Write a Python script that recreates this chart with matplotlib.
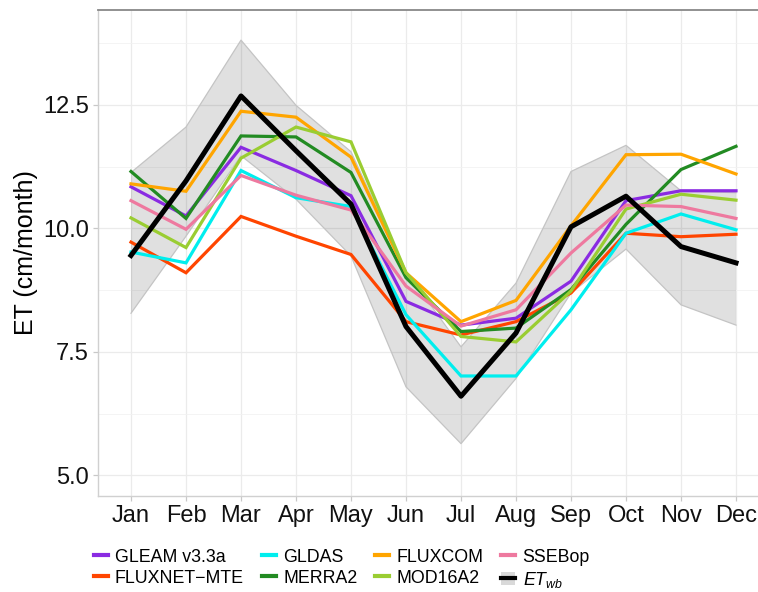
import matplotlib
matplotlib.use("Agg")
import matplotlib.pyplot as plt
from matplotlib.lines import Line2D
from matplotlib.patches import Patch
from matplotlib.ticker import MultipleLocator

plt.rcParams['font.family'] = ['Liberation Sans', 'DejaVu Sans']
plt.rcParams['mathtext.fontset'] = 'custom'
plt.rcParams['mathtext.it'] = 'Liberation Sans:italic'
plt.rcParams['mathtext.rm'] = 'Liberation Sans'

months = ['Jan', 'Feb', 'Mar', 'Apr', 'May', 'Jun',
          'Jul', 'Aug', 'Sep', 'Oct', 'Nov', 'Dec']

# monthly ET (cm/month)
gleam   = [10.84, 10.25, 11.64, 11.17, 10.66, 8.52, 8.04, 8.18, 8.93, 10.56, 10.76, 10.76]
gldas   = [9.52, 9.30, 11.17, 10.62, 10.44, 8.25, 7.01, 7.01, 8.35, 9.90, 10.29, 9.97]
fluxcom = [10.90, 10.75, 12.37, 12.25, 11.44, 9.10, 8.11, 8.54, 10.05, 11.49, 11.50, 11.10]
ssebop  = [10.56, 9.98, 11.07, 10.67, 10.37, 8.83, 8.02, 8.35, 9.50, 10.47, 10.44, 10.20]
fluxnet = [9.72, 9.10, 10.24, 9.84, 9.47, 8.11, 7.84, 8.11, 8.69, 9.90, 9.83, 9.88]
merra2  = [11.15, 10.20, 11.87, 11.85, 11.13, 9.00, 7.91, 7.98, 8.76, 10.08, 11.19, 11.66]
mod16   = [10.21, 9.61, 11.42, 12.05, 11.75, 9.10, 7.81, 7.70, 8.73, 10.39, 10.69, 10.57]
etwb    = [9.45, 10.96, 12.68, 11.57, 10.49, 8.01, 6.60, 7.88, 10.03, 10.65, 9.63, 9.30]
etwb_hi = [11.13, 12.05, 13.81, 12.49, 11.55, 9.13, 7.60, 8.89, 11.15, 11.68, 10.76, 10.72]
etwb_lo = [8.28, 9.84, 11.47, 10.59, 9.44, 6.79, 5.64, 6.96, 8.69, 9.58, 8.45, 8.04]

products = [
    ('GLEAM v3.3a', gleam, '#8a2be2'),
    ('FLUXNET\u2212MTE', fluxnet, '#ff4500'),
    ('GLDAS', gldas, '#00eeee'),
    ('MERRA2', merra2, '#228b22'),
    ('FLUXCOM', fluxcom, '#ffa500'),
    ('MOD16A2', mod16, '#9acd32'),
    ('SSEBop', ssebop, '#ee799f'),
]

fig = plt.figure(figsize=(7.58, 5.92), dpi=100)
ax = fig.add_axes([98 / 758, 1 - 496 / 592, 671 / 758, 486 / 592])

x = list(range(len(months)))

ax.fill_between(x, etwb_lo, etwb_hi, facecolor='black', alpha=0.12,
                edgecolor='none', zorder=1)
ax.plot(x, etwb_hi, color='#c4c4c4', lw=0.9, zorder=1.5)
ax.plot(x, etwb_lo, color='#c4c4c4', lw=0.9, zorder=1.5)

handles = []
for name, vals, col in products:
    ax.plot(x, vals, color=col, lw=2.3, zorder=2, solid_joinstyle='miter')
    handles.append(Line2D([], [], color=col, lw=3.0))
ax.plot(x, etwb, color='black', lw=3.6, zorder=3)
handles.append((Patch(facecolor='#d9d9d9', edgecolor='none'),
                Line2D([], [], color='black', lw=3.0)))
labels = [p[0] for p in products] + [r'$\mathit{ET}_{\mathit{wb}}$']

ax.set_xlim(-0.6, 11.6)
ax.set_ylim(4.58, 14.42)
ax.set_xticks(x)
ax.set_xticklabels(months)
ax.set_yticks([5.0, 7.5, 10.0, 12.5])
ax.set_yticklabels(['5.0', '7.5', '10.0', '12.5'])
ax.yaxis.set_minor_locator(MultipleLocator(1.25))
ax.set_ylabel('ET (cm/month)', fontsize=18, labelpad=4)

ax.tick_params(axis='both', which='major', labelsize=17, length=3.5,
               color='#c8c8c8', width=0.9, pad=3, labelcolor='#111111')
ax.tick_params(axis='y', which='minor', length=0)

ax.grid(which='major', color='#ebebeb', lw=0.9, zorder=0)
ax.grid(which='minor', axis='y', color='#f2f2f2', lw=0.6, zorder=0)
ax.set_axisbelow(True)

for side in ['left', 'bottom']:
    ax.spines[side].set_color('#d0d0d0')
    ax.spines[side].set_linewidth(1.0)
ax.spines['right'].set_visible(False)
ax.spines['top'].set_color('#888888')
ax.spines['top'].set_linewidth(1.3)

fig.legend(handles, labels, ncol=4, loc='lower left',
           bbox_to_anchor=(83 / 758, -0.014), frameon=False, fontsize=12.8,
           handlelength=0.8, handletextpad=0.4, columnspacing=1.0,
           labelspacing=0.22, borderpad=0.1)

fig.savefig('out.png', dpi=100)
